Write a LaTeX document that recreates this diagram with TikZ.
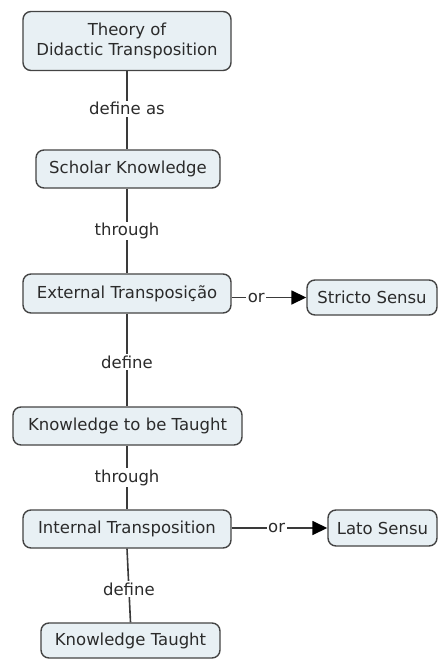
\documentclass[tikz,border=0pt]{standalone}
\usepackage{fontspec}
\setmainfont{DejaVu Sans}
\usetikzlibrary{arrows.meta}
\definecolor{boxfill}{HTML}{E8F0F4}
\definecolor{boxline}{HTML}{444444}
\definecolor{txt}{HTML}{2B2B2B}
\definecolor{conn}{HTML}{3A3A3A}
\tikzset{
  concept/.style={draw=boxline, line width=1.4bp, fill=boxfill, rounded corners=8bp,
    text=txt, inner sep=0pt, align=center,
    font=\fontsize{16.5bp}{19.5bp}\selectfont},
  link/.style={draw=conn, line width=1.6bp},
  lab/.style={fill=white, text=txt, inner sep=1.5bp, font=\fontsize{16.5bp}{19.5bp}\selectfont},
  tip/.style={-{Triangle[length=15bp,width=14bp,fill=black,color=black]}}
}
\begin{document}
\begin{tikzpicture}[x=1bp,y=-1bp]
\useasboundingbox (0,0) rectangle (438,659);
\node[concept, minimum width=208bp, minimum height=59bp] (theory) at (127,41) {Theory of\\Didactic Transposition};
\node[concept, minimum width=184bp, minimum height=38bp] (scholar) at (128,169) {Scholar Knowledge};
\node[concept, minimum width=208bp, minimum height=39bp] (external) at (127,293.5) {External Transposição};
\node[concept, minimum width=130bp, minimum height=35bp] (stricto) at (372,297.5) {Stricto Sensu};
\node[concept, minimum width=229bp, minimum height=38bp] (tobe) at (127.5,426) {Knowledge to be Taught};
\node[concept, minimum width=208bp, minimum height=38bp] (internal) at (127,529) {Internal Transposition};
\node[concept, minimum width=109bp, minimum height=36bp] (lato) at (382.5,528) {Lato Sensu};
\node[concept, minimum width=179bp, minimum height=35bp] (taught) at (130.5,640.5) {Knowledge Taught};

\draw[link] (theory.south) -- node[lab, pos=0.48] (l1) {define as} (theory.south |- scholar.north);
\draw[link] (scholar.south -| external.north) -- node[lab, pos=0.5] (l2) {through} (external.north);
\draw[link] (external.south) -- node[lab, pos=0.52] (l3) {define} (external.south |- tobe.north);
\draw[link] (tobe.south -| internal.north) -- node[lab, pos=0.5] (l4) {through} (internal.north);
\draw[link] (internal.south) -- node[lab, pos=0.55] (l5) {define} (taught.north);
\draw[link, tip] (external.east |- stricto.west) -- node[lab, pos=0.33] (l6) {or} (stricto.west);
\draw[link, tip] (internal.east |- lato.west) -- node[lab, pos=0.47] (l7) {or} (lato.west);
\end{tikzpicture}
\end{document}
